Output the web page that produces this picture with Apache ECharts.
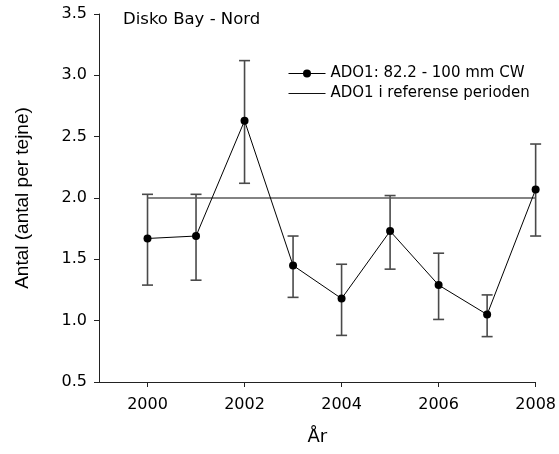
<!DOCTYPE html>
<html>
<head>
<meta charset="utf-8">
<script src="https://cdn.jsdelivr.net/npm/echarts@6/dist/echarts.min.js"></script>
<style>
html,body{margin:0;padding:0;background:#fff;}
#chart{width:559px;height:454px;}
</style>
</head>
<body>
<div id="chart"></div>
<script>
const years = [2000, 2001, 2002, 2003, 2004, 2005, 2006, 2007, 2008];
const means = [1.67, 1.69, 2.63, 1.45, 1.18, 1.73, 1.29, 1.05, 2.07];
const lower = [1.29, 1.33, 2.12, 1.19, 0.88, 1.42, 1.01, 0.87, 1.69];
const upper = [2.03, 2.03, 3.12, 1.69, 1.46, 2.02, 1.55, 1.21, 2.44];
const refYears = [2000, 2008];
const refValue = 2.0;
const xTicks = [2000, 2002, 2004, 2006, 2008];
const seriesName = 'ADO1: 82.2 - 100 mm CW';
const refName = 'ADO1 i referense perioden';
const titleText = 'Disko Bay - Nord';

const chart = echarts.init(document.getElementById('chart'), null, {renderer: 'canvas'});

const lineData = years.map((y, i) => [y, means[i]]);
const errData = years.map((y, i) => [y, lower[i], upper[i]]);
const refData = refYears.map(y => [y, refValue]);

const option = {
  animation: false,
  backgroundColor: '#ffffff',
  grid: {left: 99, right: 23, top: 14, bottom: 72},
  graphic: [{
    type: 'text',
    left: 123,
    top: 11,
    style: {
      text: titleText,
      fontFamily: 'DejaVu Sans',
      fontSize: 16.5,
      fill: '#000'
    }
  }],
  legend: {
    data: [
      {name: seriesName},
      {name: refName, itemStyle: {opacity: 0}, lineStyle: {color: '#111', width: 1}}
    ],
    orient: 'vertical',
    left: 283,
    top: 61,
    itemWidth: 37,
    itemHeight: 10,
    itemGap: 5,
    lineStyle: {width: 1},
    textStyle: {fontFamily: 'DejaVu Sans', fontSize: 15, color: '#000', lineHeight: 15}
  },
  xAxis: {
    type: 'value',
    min: 1999,
    max: 2008,
    name: 'År',
    nameLocation: 'middle',
    nameGap: 46,
    nameTextStyle: {fontFamily: 'DejaVu Sans', fontSize: 18, color: '#000'},
    splitLine: {show: false},
    axisLine: {lineStyle: {color: '#222', width: 1}},
    axisTick: {show: true, length: 5, lineStyle: {color: '#222'}, customValues: xTicks},
    axisLabel: {fontFamily: 'DejaVu Sans', fontSize: 16, color: '#000', margin: 15, customValues: xTicks, formatter: v => String(v)}
  },
  yAxis: {
    type: 'value',
    min: 0.5,
    max: 3.5,
    interval: 0.5,
    name: 'Antal (antal per tejne)',
    nameLocation: 'middle',
    nameGap: 67,
    nameRotate: 90,
    nameTextStyle: {fontFamily: 'Liberation Sans', fontSize: 19, color: '#000'},
    splitLine: {show: false},
    axisLine: {show: true, lineStyle: {color: '#222', width: 1}},
    axisTick: {show: true, length: 5, lineStyle: {color: '#222'}},
    axisLabel: {fontFamily: 'DejaVu Sans', fontSize: 16, color: '#000', margin: 12, formatter: v => v.toFixed(1)}
  },
  series: [
    {
      name: 'errors',
      type: 'custom',
      data: errData,
      z: 1,
      silent: true,
      renderItem: function (params, api) {
        const x = api.value(0);
        const lo = api.coord([x, api.value(1)]);
        const hi = api.coord([x, api.value(2)]);
        const cw = 5.5;
        const st = {stroke: '#4a4a4a', lineWidth: 1.6};
        return {
          type: 'group',
          children: [
            {type: 'line', shape: {x1: lo[0], y1: lo[1], x2: hi[0], y2: hi[1]}, style: st},
            {type: 'line', shape: {x1: lo[0] - cw, y1: lo[1], x2: lo[0] + cw, y2: lo[1]}, style: st},
            {type: 'line', shape: {x1: hi[0] - cw, y1: hi[1], x2: hi[0] + cw, y2: hi[1]}, style: st}
          ]
        };
      }
    },
    {
      name: refName,
      type: 'line',
      data: refData,
      symbol: 'none',
      z: 2,
      lineStyle: {color: '#5a5a5a', width: 1.6},
      itemStyle: {color: '#5a5a5a'}
    },
    {
      name: seriesName,
      type: 'line',
      data: lineData,
      symbol: 'circle',
      symbolSize: 8,
      z: 3,
      lineStyle: {color: '#000', width: 1},
      itemStyle: {color: '#000'}
    }
  ]
};
chart.setOption(option);
</script>
</body>
</html>
